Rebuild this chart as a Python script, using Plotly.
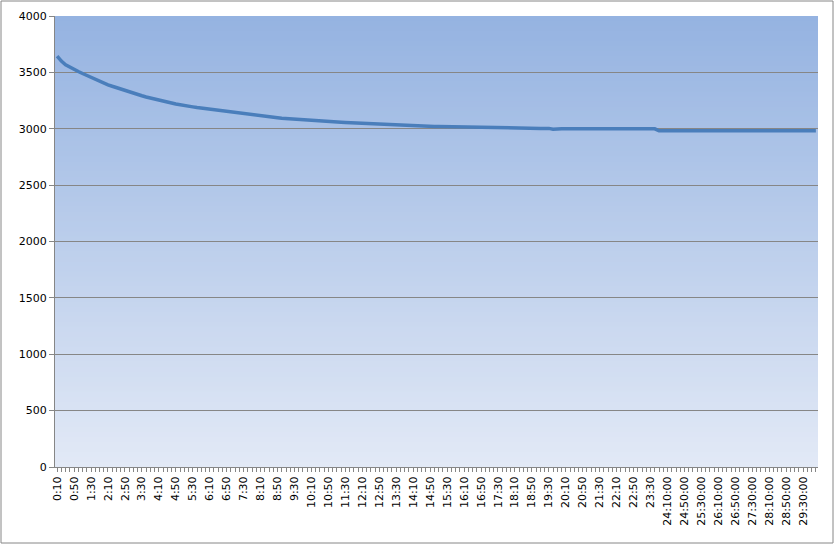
import plotly.graph_objects as go

# ---------------- data ----------------
values = [
    3645, 3600, 3568, 3545, 3525, 3508, 3490, 3472, 3454, 3436,
    3418, 3404, 3390, 3377, 3364, 3352, 3340, 3328, 3316, 3305,
    3293, 3282, 3272, 3263, 3254, 3245, 3237, 3229, 3220, 3212,
    3206, 3200, 3194, 3188, 3183, 3177, 3171, 3166, 3160, 3155,
    3150, 3145, 3140, 3135, 3130, 3126, 3121, 3117, 3112, 3108,
    3104, 3100, 3097, 3093, 3090, 3087, 3083, 3080, 3077, 3074,
    3071, 3069, 3067, 3065, 3063, 3061, 3059, 3057, 3055, 3053,
    3051, 3049, 3047, 3045, 3043, 3041, 3040, 3038, 3036, 3034,
    3032, 3031, 3030, 3029, 3028, 3027, 3026, 3024, 3022, 3021,
    3020, 3019, 3018, 3017, 3016, 3015, 3014, 3012, 3011, 3010,
    3009, 3008, 3007, 3006, 3006, 3005, 3005, 3005, 3005, 3004,
    3004, 3004, 3004, 3004, 3003, 3003, 3003, 2995, 3000, 2999,
    2999, 2999, 2999, 2999, 2999, 2999, 2999, 2999, 2999, 2999,
    2999, 2999, 2999, 2999, 2999, 2999, 2999, 2999, 2999, 2999,
    2999, 2999, 2982, 2982, 2982, 2982, 2982, 2982, 2982, 2982,
    2982, 2982, 2982, 2982, 2982, 2982, 2982, 2982, 2982, 2982,
    2982, 2982, 2982, 2982, 2982, 2982, 2982, 2982, 2982, 2982,
    2982, 2982, 2982, 2982, 2982, 2982, 2982, 2982, 2982, 2982,
]

# category labels: every 10 minutes from 0:10 to 30:00
categories = []
for i in range(len(values)):
    m = 10 * (i + 1)
    h, mm = divmod(m, 60)
    categories.append(f"{h}:{mm:02d}" if h < 24 else f"{h}:{mm:02d}:00")

label_step = 4
tick_text = [c if i % label_step == 0 else "" for i, c in enumerate(categories)]

y_ticks = [0, 500, 1000, 1500, 2000, 2500, 3000, 3500, 4000]

# ---------------- figure ----------------
fig = go.Figure()
fig.add_trace(go.Scatter(
    x=categories, y=values, mode="lines",
    line=dict(color="#4A7EBB", width=3.5),
    hoverinfo="x+y", showlegend=False,
))

# gradient background made of thin bands
top = (0x95, 0xB3, 0xE1)
bot = (0xE2, 0xE9, 0xF6)
n = 90
shapes = []
for k in range(n):
    t = k / (n - 1)
    c = tuple(round(bot[j] + (top[j] - bot[j]) * t) for j in range(3))
    shapes.append(dict(
        type="rect", xref="paper", yref="paper",
        x0=0, x1=1, y0=k / n, y1=min(1, (k + 1.6) / n),
        fillcolor="rgb(%d,%d,%d)" % c, line=dict(width=0), layer="below",
    ))

# outer chart border
W, H = 835, 545
L, R, T, B = 55, 17, 16, 78
pw, ph = W - L - R, H - T - B
shapes.append(dict(
    type="rect", xref="paper", yref="paper",
    x0=(1 - L) / pw, x1=(W - 2 - L) / pw,
    y0=-(B - 2) / ph, y1=(ph + T - 1) / ph,
    line=dict(color="#868686", width=1), fillcolor="rgba(0,0,0,0)", layer="above",
))

fig.update_layout(
    width=W, height=H,
    margin=dict(l=L, r=R, t=T, b=B, autoexpand=False),
    paper_bgcolor="white", plot_bgcolor="#C0D0EE",
    font=dict(family="DejaVu Sans, Verdana, sans-serif", size=11, color="black"),
    shapes=shapes,
)
fig.update_xaxes(
    type="category", tickmode="array", tickvals=categories, ticktext=tick_text,
    tickangle=-90, ticks="outside", ticklen=4, tickcolor="#868686",
    showline=True, linecolor="#868686", linewidth=1, showgrid=False,
    range=[-0.5, len(categories) - 0.5], automargin=False,
)
fig.update_yaxes(
    range=[0, 4000], tickvals=y_ticks, ticks="outside", ticklen=5,
    tickcolor="#868686", showline=True, linecolor="#868686", linewidth=1,
    showgrid=True, gridcolor="#868686", gridwidth=1, zeroline=False,
    automargin=False,
)

fig.write_html(
    "out.html",
    config={"displayModeBar": False},
    post_script="document.body.style.margin='0';document.body.style.overflow='hidden';",
)
